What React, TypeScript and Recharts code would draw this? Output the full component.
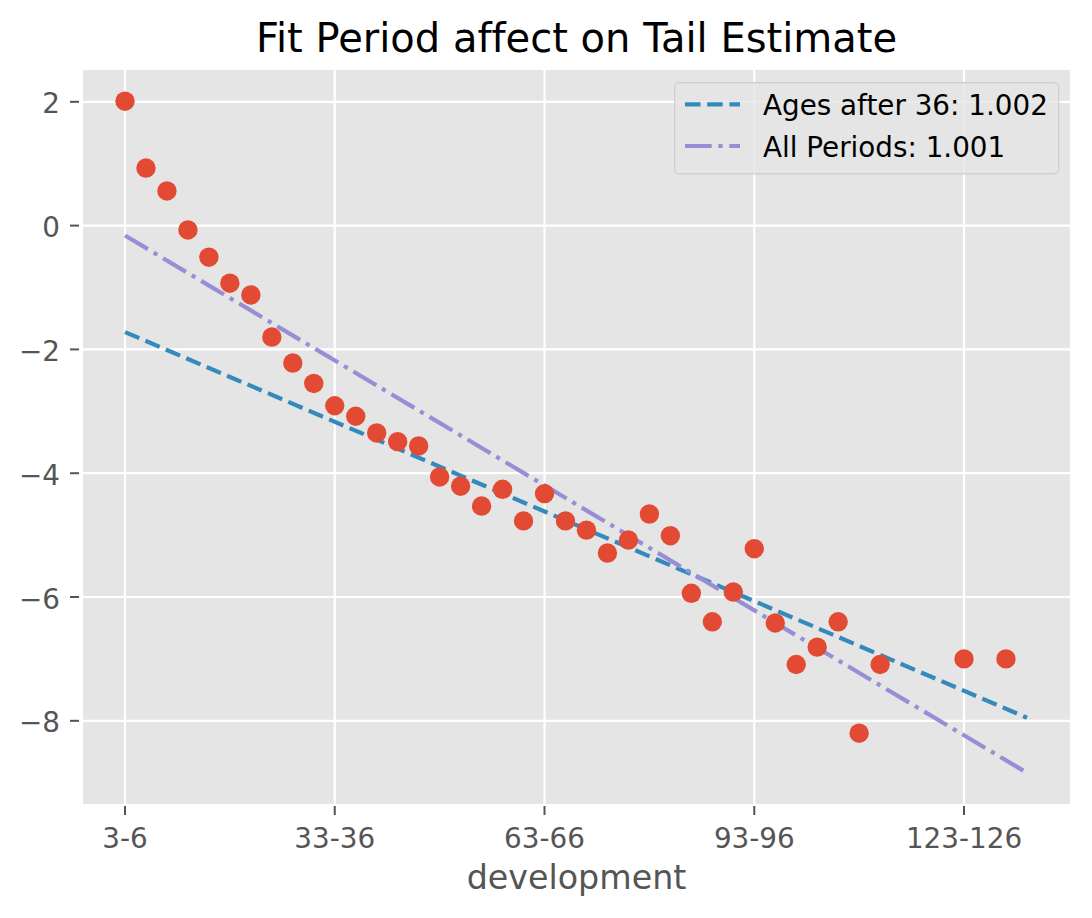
import React from 'react';
import { ComposedChart, Line, Scatter, XAxis, YAxis, CartesianGrid, Legend } from 'recharts';

// development periods (x categories)
const categories = [
  '3-6', '6-9', '9-12', '12-15', '15-18', '18-21', '21-24', '24-27', '27-30', '30-33',
  '33-36', '36-39', '39-42', '42-45', '45-48', '48-51', '51-54', '54-57', '57-60', '60-63',
  '63-66', '66-69', '69-72', '72-75', '75-78', '78-81', '81-84', '84-87', '87-90', '90-93',
  '93-96', '96-99', '99-102', '102-105', '105-108', '108-111', '111-114', '114-117', '117-120', '120-123',
  '123-126', '126-129', '129-132', '132-135',
];

// observed points (log of development factor - 1)
const observedLabels = [
  '3-6', '6-9', '9-12', '12-15', '15-18', '18-21', '21-24', '24-27', '27-30', '30-33',
  '33-36', '36-39', '39-42', '42-45', '45-48', '48-51', '51-54', '54-57', '57-60', '60-63',
  '63-66', '66-69', '69-72', '72-75', '75-78', '78-81', '81-84', '84-87', '87-90', '90-93',
  '93-96', '96-99', '99-102', '102-105', '105-108', '108-111', '111-114', '123-126', '129-132',
];
const observedValues = [
  2.01, 0.93, 0.56, -0.07, -0.51, -0.93, -1.12, -1.8, -2.22, -2.55,
  -2.91, -3.08, -3.35, -3.49, -3.56, -4.06, -4.21, -4.53, -4.26, -4.77,
  -4.33, -4.77, -4.92, -5.29, -5.08, -4.66, -5.01, -5.94, -6.4, -5.92,
  -5.22, -6.42, -7.09, -6.81, -6.4, -8.2, -7.09, -7.0, -7.0,
];

// fitted lines (end points)
const fitLabels = ['3-6', '132-135'];
const fitAfter36 = [-1.72, -7.95];
const fitAllPeriods = [-0.16, -8.84];

const seriesNames = ['Ages after 36: 1.002', 'All Periods: 1.001'];

const xTickLabels = ['3-6', '33-36', '63-66', '93-96', '123-126'];
const yTicks = [-8, -6, -4, -2, 0, 2];

const chartData = categories.map((c, i) => {
  const f = fitLabels.indexOf(c);
  return {
    idx: i,
    after36: f >= 0 ? fitAfter36[f] : null,
    allPeriods: f >= 0 ? fitAllPeriods[f] : null,
  };
});

const scatterData = observedLabels.map((c, k) => ({
  idx: categories.indexOf(c),
  obs: observedValues[k],
}));

const xTicks = xTickLabels.map((l) => categories.indexOf(l));

const FONT = 'DejaVu Sans, Verdana, sans-serif';
const BLUE = '#348ABD';
const PURPLE = '#988ED5';
const RED = '#E24A33';
const NOLIG: React.CSSProperties = { fontVariantLigatures: 'none', fontFeatureSettings: '"liga" 0' };

const fmtY = (v: number) => (v < 0 ? '\u2212' + Math.abs(v) : String(v));

const XTick = (props: any) => {
  const { x, y, payload } = props;
  return (
    <g>
      <line x1={x} x2={x} y1={y + 1} y2={y + 10} stroke="#555555" strokeWidth={2} />
      <text x={x} y={y + 43} textAnchor="middle" fontFamily={FONT} fontSize={27.8} fill="#555555" style={NOLIG}>
        {categories[payload.value]}
      </text>
    </g>
  );
};

const YTick = (props: any) => {
  const { x, y, payload } = props;
  return (
    <g>
      <line x1={x - 3} x2={x - 12} y1={y} y2={y} stroke="#555555" strokeWidth={2} />
      <text x={x - 22} y={y + 11.5} textAnchor="end" fontFamily={FONT} fontSize={27.8} fill="#555555" style={NOLIG}>
        {fmtY(payload.value)}
      </text>
    </g>
  );
};

const LegendBox = () => (
  <svg width={388} height={95} style={{ display: 'block', overflow: 'visible' }}>
    <rect x={0.7} y={0.7} width={384} height={91} rx={4} ry={4} fill="#E5E5E5" fillOpacity={0.8} stroke="#D1D1D1" strokeWidth={1.4} />
    <line x1={11} x2={66} y1={22.3} y2={22.3} stroke={BLUE} strokeWidth={4.2} strokeDasharray="15.5 6.7" />
    <text x={89} y={33} fontFamily={FONT} fontSize={27.8} fill="#000000" style={NOLIG}>{seriesNames[0]}</text>
    <line x1={11} x2={66} y1={64} y2={64} stroke={PURPLE} strokeWidth={4.2} strokeDasharray="26.7 6.7 4.2 6.7" />
    <text x={89} y={74.7} fontFamily={FONT} fontSize={27.8} fill="#000000" style={NOLIG}>{seriesNames[1]}</text>
  </svg>
);

export default function App() {
  return (
    <div style={{ position: 'absolute', left: 0, top: 0, width: 1092, height: 918, background: '#ffffff' }}>
      <ComposedChart
        width={1092}
        height={918}
        data={chartData}
        margin={{ top: 69, right: 21, left: 0, bottom: 0 }}
      >
        <CartesianGrid fill="#E5E5E5" stroke="#FFFFFF" strokeWidth={2.2} />
        <XAxis
          dataKey="idx"
          type="number"
          domain={[-2.05, 45.1]}
          allowDataOverflow
          ticks={xTicks}
          interval={0}
          height={113}
          tickSize={0}
          tickMargin={0}
          axisLine={false}
          tickLine={false}
          tick={<XTick />}
        />
        <YAxis
          type="number"
          domain={[-9.36, 2.53]}
          allowDataOverflow
          ticks={yTicks}
          interval={0}
          width={82}
          tickSize={0}
          tickMargin={0}
          axisLine={false}
          tickLine={false}
          tick={<YTick />}
        />
        <Scatter
          data={scatterData}
          dataKey="obs"
          fill={RED}
          legendType="none"
          isAnimationActive={false}
          shape={(p: any) => <circle cx={p.cx} cy={p.cy} r={9.7} fill={RED} />}
        />
        <Line
          dataKey="after36"
          name={seriesNames[0]}
          stroke={BLUE}
          strokeWidth={4.2}
          strokeDasharray="15.5 6.7"
          dot={false}
          activeDot={false}
          connectNulls
          isAnimationActive={false}
          type="linear"
        />
        <Line
          dataKey="allPeriods"
          name={seriesNames[1]}
          stroke={PURPLE}
          strokeWidth={4.2}
          strokeDasharray="26.7 6.7 4.2 6.7"
          dot={false}
          activeDot={false}
          connectNulls
          isAnimationActive={false}
          type="linear"
        />
        <Legend
          layout="vertical"
          align="center"
          verticalAlign="middle"
          content={() => <LegendBox />}
          wrapperStyle={{ position: 'absolute', left: 674, top: 82, width: 388, height: 95 }}
        />
      </ComposedChart>
      <svg
        width={1092}
        height={918}
        style={{ position: 'absolute', left: 0, top: 0, pointerEvents: 'none' }}
      >
        <text x={576.5} y={52} textAnchor="middle" fontFamily={FONT} fontSize={40} fill="#000000" style={NOLIG}>
          Fit Period affect on Tail Estimate
        </text>
        <text x={576.5} y={889} textAnchor="middle" fontFamily={FONT} fontSize={33.3} fill="#555555" style={NOLIG}>
          development
        </text>
      </svg>
    </div>
  );
}
